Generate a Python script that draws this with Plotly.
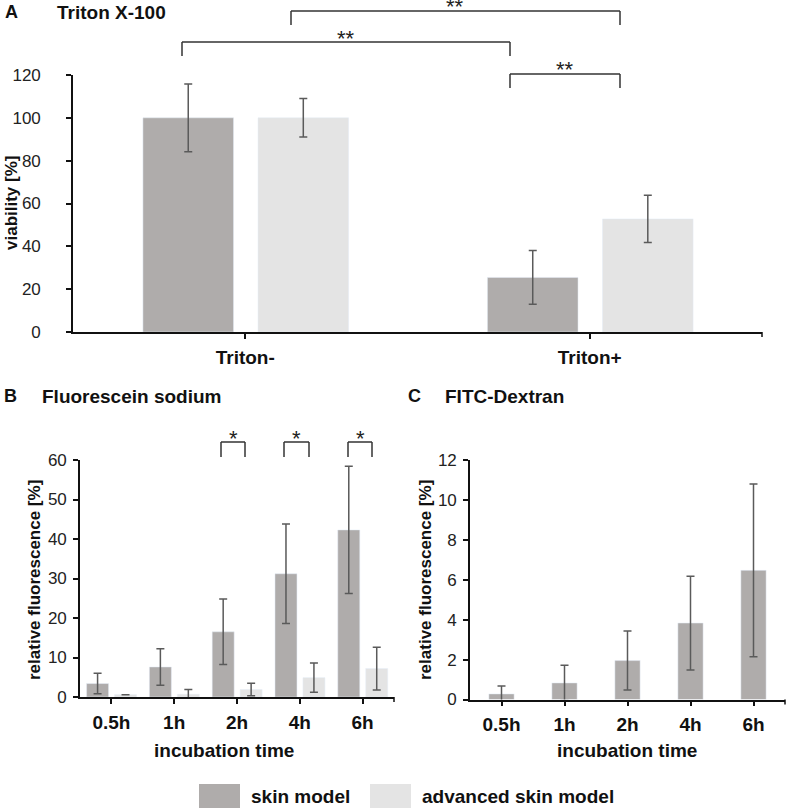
import plotly.graph_objects as go

# ---------------- data ----------------
series_names = ["skin model", "advanced skin model"]

a_categories = ["Triton-", "Triton+"]
a_skin = [100, 25.5]
a_skin_err = [15.8, 12.5]
a_adv = [100, 52.8]
a_adv_err = [9.0, 11.0]

b_categories = ["0.5h", "1h", "2h", "4h", "6h"]
b_skin = [3.4, 7.6, 16.5, 31.2, 42.3]
b_skin_err = [2.6, 4.6, 8.3, 12.6, 16.1]
b_adv = [0.6, 0.7, 1.9, 4.9, 7.2]
b_adv_err = [0.0, 1.2, 1.6, 3.7, 5.4]

c_categories = ["0.5h", "1h", "2h", "4h", "6h"]
c_skin = [0.28, 0.83, 1.95, 3.83, 6.47]
c_skin_err = [0.4, 0.88, 1.48, 2.35, 4.33]

a_ticks = [0, 20, 40, 60, 80, 100, 120]
b_ticks = [0, 10, 20, 30, 40, 50, 60]
c_ticks = [0, 2, 4, 6, 8, 10, 12]

# ---------------- styling ----------------
W, H = 787, 810
FONT = "Liberation Sans, Arial, sans-serif"
SKIN = "#afacab"
ADV = "#e4e4e4"
ERR = "#5a5a5a"
LINE = "#111111"


def px(x):
    return x / W


def py(y):
    return 1 - y / H


fig = go.Figure()

err_style = dict(type="data", color=ERR, thickness=1.5, width=4, visible=True)

# Panel A
fig.add_trace(go.Bar(x=a_categories, y=a_skin, name=series_names[0], marker_color=SKIN,
                     width=0.263, offset=-0.297,
                     error_y=dict(array=a_skin_err, **err_style),
                     xaxis="x", yaxis="y", showlegend=False))
fig.add_trace(go.Bar(x=a_categories, y=a_adv, name=series_names[1], marker_color=ADV,
                     width=0.263, offset=0.037,
                     error_y=dict(array=a_adv_err, **err_style),
                     xaxis="x", yaxis="y", showlegend=False))
# Panel B
fig.add_trace(go.Bar(x=b_categories, y=b_skin, name=series_names[0], marker_color=SKIN,
                     width=0.35, offset=-0.395,
                     error_y=dict(array=b_skin_err, **err_style),
                     xaxis="x2", yaxis="y2", showlegend=False))
fig.add_trace(go.Bar(x=b_categories, y=b_adv, name=series_names[1], marker_color=ADV,
                     width=0.35, offset=0.05,
                     error_y=dict(array=b_adv_err, **err_style),
                     xaxis="x2", yaxis="y2", showlegend=False))
# Panel C
fig.add_trace(go.Bar(x=c_categories, y=c_skin, name=series_names[0], marker_color=SKIN,
                     width=0.4, offset=-0.2,
                     error_y=dict(array=c_skin_err, **err_style),
                     xaxis="x3", yaxis="y3", showlegend=False))

xcommon = dict(showline=True, linecolor=LINE, linewidth=1.6, ticks="outside", ticklen=5,
               tickcolor=LINE, tickwidth=1.5, showgrid=False, zeroline=False,
               fixedrange=True, automargin=False)
ycommon = dict(showline=True, linecolor=LINE, linewidth=1.6, ticks="outside", ticklen=5,
               tickcolor=LINE, tickwidth=1.5, showgrid=False, zeroline=False,
               fixedrange=True, automargin=False,
               tickfont=dict(family=FONT, size=17, color="#222222"))

xfont = dict(family=FONT, size=19, color="#111111", weight="bold")

fig.update_layout(
    width=W, height=H,
    margin=dict(l=0, r=0, t=0, b=0),
    paper_bgcolor="white", plot_bgcolor="white",
    barmode="overlay",
    showlegend=False,
    font=dict(family=FONT, color="#111111"),
    xaxis=dict(xcommon, domain=[px(73), px(762)], range=[-0.5, 1.5], anchor="y",
               tickfont=xfont, ticklabelstandoff=2),
    yaxis=dict(ycommon, domain=[py(332), py(75)], range=[0, 120], anchor="x",
               tickvals=a_ticks, ticklabelstandoff=22),
    xaxis2=dict(xcommon, domain=[px(80), px(394)], range=[-0.5, 4.5], anchor="y2",
                tickfont=xfont, ticklabelstandoff=2),
    yaxis2=dict(ycommon, domain=[py(697), py(460)], range=[0, 60], anchor="x2",
                tickvals=b_ticks, ticklabelstandoff=3),
    xaxis3=dict(xcommon, domain=[px(470), px(785)], range=[-0.5, 4.5], anchor="y3",
                tickfont=xfont, ticklabelstandoff=2),
    yaxis3=dict(ycommon, domain=[py(699.5), py(460)], range=[0, 12], anchor="x3",
                tickvals=c_ticks, ticklabelstandoff=3),
)

shapes = []
annotations = []


def line(x0, y0, x1, y1, color="#333333", w=1.5):
    shapes.append(dict(type="line", xref="paper", yref="paper",
                       x0=px(x0), y0=py(y0), x1=px(x1), y1=py(y1),
                       line=dict(color=color, width=w)))


def bracket(xl, xr, ytop, ybot, label, size):
    line(xl, ybot, xl, ytop)
    line(xl, ytop, xr, ytop)
    line(xr, ytop, xr, ybot)
    annotations.append(dict(xref="paper", yref="paper", x=px((xl + xr) / 2), y=py(ytop - 4),
                            text=label, showarrow=False, xanchor="center", yanchor="middle",
                            font=dict(family=FONT, size=size, color="#222222")))


def text(x, y, s, size, anchor="left", bold=True, angle=0):
    annotations.append(dict(xref="paper", yref="paper", x=px(x), y=py(y), text=s,
                            showarrow=False, xanchor=anchor, yanchor="middle",
                            textangle=angle,
                            font=dict(family=FONT, size=size, color="#111111",
                                      weight="bold" if bold else "normal")))


# axis end ticks
line(762, 332, 762, 337, LINE, 1.5)
line(394, 697, 394, 702, LINE, 1.5)
line(785, 699.5, 785, 704.5, LINE, 1.5)

# significance brackets
bracket(291, 620, 11, 25, "**", 22)
bracket(182, 510, 42, 56, "**", 22)
bracket(510, 620, 74, 88, "**", 22)
bracket(221, 245, 442, 457, "*", 22)
bracket(284, 309, 442, 457, "*", 22)
bracket(348, 372, 442, 457, "*", 22)

# panel titles
text(3, 12, "A", 18)
text(55, 12, "Triton X-100", 19)
text(2, 396, "B", 18)
text(40, 396, "Fluorescein sodium", 19)
text(406, 396, "C", 18)
text(443, 396, "FITC-Dextran", 19)

# axis titles
text(11, 203, "viability [%]", 17, anchor="center", angle=-90)
text(34, 580, "relative fluorescence [%]", 17, anchor="center", angle=-90)
text(425, 580, "relative fluorescence [%]", 17, anchor="center", angle=-90)
text(224, 750, "incubation time", 19, anchor="center")
text(627, 750, "incubation time", 19, anchor="center")

# legend
for (x0, x1, col, name, tx) in [(199, 240, SKIN, series_names[0], 249),
                                (370, 411, ADV, series_names[1], 420)]:
    shapes.append(dict(type="rect", xref="paper", yref="paper",
                       x0=px(x0), x1=px(x1), y0=py(808), y1=py(784),
                       fillcolor=col, line=dict(width=0)))
    text(tx, 796, name, 19)

fig.update_layout(shapes=shapes, annotations=annotations)

fig.write_html("out.html",
               config={"displayModeBar": False},
               post_script="document.body.style.margin='0px';document.body.style.overflow='hidden';")
